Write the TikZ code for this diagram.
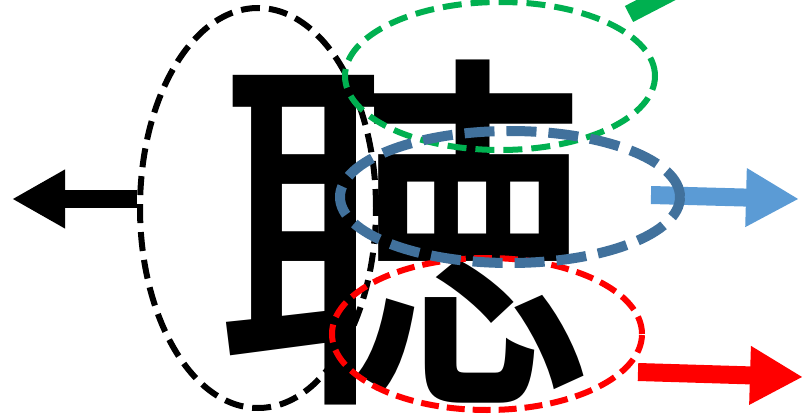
\documentclass[tikz,border=0pt]{standalone}
\usepackage{fontspec}
\newfontfamily\jpfont{Noto Sans CJK JP Medium}
\usetikzlibrary{arrows.meta}
\usetikzlibrary{shapes.geometric}
\usetikzlibrary{backgrounds}
\definecolor{earblack}{HTML}{000000}
\definecolor{topgreen}{HTML}{00B050}
\definecolor{eyeblue}{HTML}{41719C}
\definecolor{arrowblue}{HTML}{5B9BD5}
\definecolor{heartred}{HTML}{FF0000}
\newcommand{\lw}{6pt}
\newcommand{\KS}{\fontsize{376}{376}\selectfont}
\tikzset{
    ring/.style={ellipse,draw=#1,line width=\lw,inner sep=0pt,dash pattern=on 19pt off 9pt},
    block/.style={draw=#1,line width=18pt,-{Triangle[width=55pt,length=53pt]}}
}

\begin{document}
\begin{tikzpicture}[x=1pt,y=-1pt]
    \clip (0,0) rectangle (804,420);

    \node[inner sep=0pt,anchor=base west] (kanji) at (215,373) {\jpfont\KS 聴};

    \node[ring=earblack,minimum width=236pt,minimum height=400pt] (ear) at (258,208) {};
    \node[ring=heartred,minimum width=310pt,minimum height=152pt,dash pattern=on 18pt off 8pt] (heart) at (487,334) {};
    \node[ring=topgreen,minimum width=310pt,minimum height=148pt] (top) at (500,76) {};
    \node[ring=eyeblue,minimum width=340pt,minimum height=132pt,line width=10pt,dash pattern=on 30pt off 12pt] (eye) at (510,197) {};

    \coordinate (earout) at (12,199);
    \coordinate (eyeout) at (799,199);
    \coordinate (heartout) at (803,377);
    \coordinate (topout) at (770,-59);

    \begin{scope}[on background layer]
        \draw[block=earblack] ([yshift=9pt]ear.west) -- (earout);
        \draw[block=arrowblue] ([xshift=-34pt,yshift=2pt]eye.east) -- (eyeout);
        \draw[block=heartred] ([xshift=-7pt,yshift=-38pt]heart.east) -- (heartout);
        \draw[block=topgreen] ([xshift=-29pt,yshift=62pt]top.east) -- (topout);
    \end{scope}
\end{tikzpicture}
\end{document}
